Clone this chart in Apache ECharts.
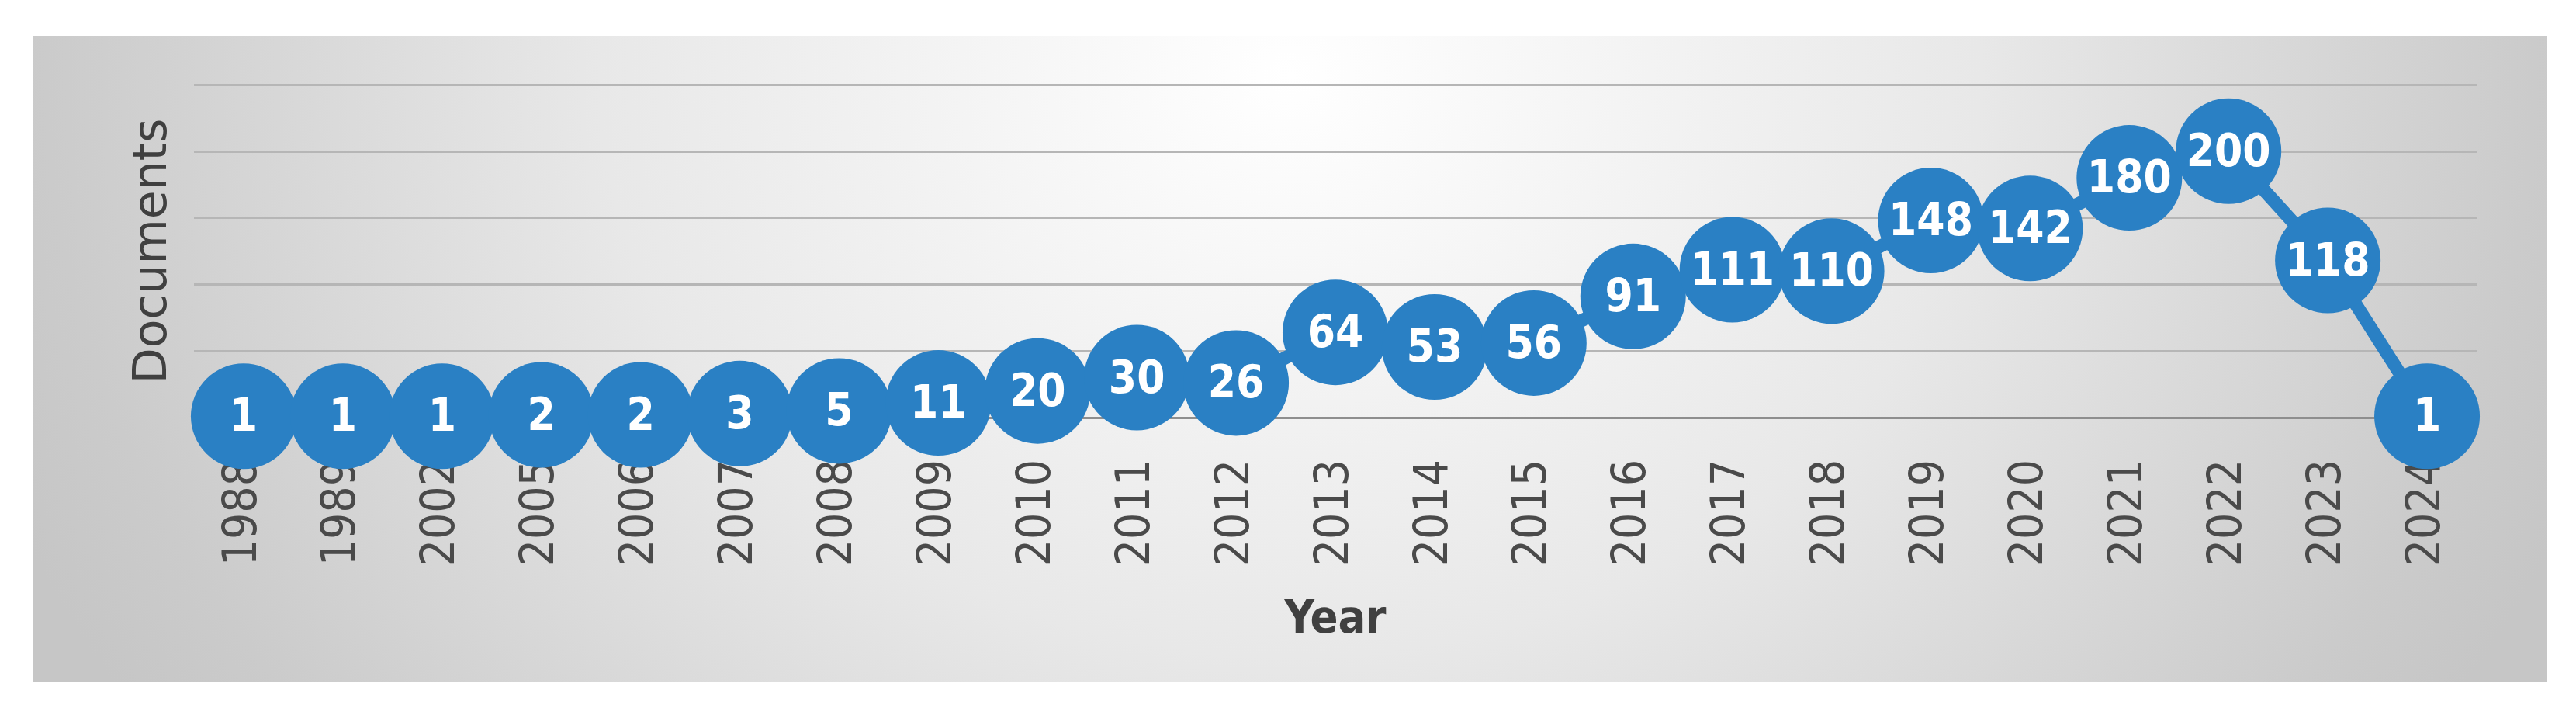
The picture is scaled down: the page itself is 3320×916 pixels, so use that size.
<!DOCTYPE html>
<html>
<head>
<meta charset="utf-8">
<script src="https://cdn.jsdelivr.net/npm/echarts@6/dist/echarts.min.js"></script>
<style>
  html, body { margin: 0; padding: 0; background: #fff; }
  #chart { width: 3320px; height: 916px; }
</style>
</head>
<body>
<div id="chart"></div>
<script>
const years = ['1988', '1989', '2002', '2005', '2006', '2007', '2008', '2009', '2010', '2011', '2012',
  '2013', '2014', '2015', '2016', '2017', '2018', '2019', '2020', '2021', '2022', '2023', '2024']
const documents = [1, 1, 1, 2, 2, 3, 5, 11, 20, 30, 26, 64, 53, 56, 91, 111, 110, 148, 142, 180, 200, 118, 1]

const yTicks = { min: 0, max: 250, interval: 50 }

const chart = echarts.init(document.getElementById('chart'))

// panel background, elliptical radial gradient (square gradient stretched with scaleX)
const panel = { x: 43, y: 47, w: 3240, h: 831 }
const k = 1.19

const option = {
  animation: false,
  backgroundColor: '#ffffff',
  graphic: [
    {
      type: 'rect',
      x: panel.x,
      y: panel.y,
      scaleX: k,
      z: -10,
      silent: true,
      shape: { x: 0, y: 0, width: panel.w / k, height: panel.h },
      style: {
        fill: new echarts.graphic.RadialGradient(0.5, 0.06, 1.8, [
          { offset: 0, color: '#ffffff' },
          { offset: 0.5, color: '#e8e8e8' },
          { offset: 0.9, color: '#cbcbcb' },
          { offset: 1, color: '#c6c6c6' }
        ])
      }
    }
  ],
  grid: {
    left: 250,
    right: 128,
    top: 109,
    bottom: 378
  },
  xAxis: {
    type: 'category',
    data: years,
    boundaryGap: true,
    name: 'Year',
    nameLocation: 'middle',
    nameGap: 232,
    nameTextStyle: {
      fontFamily: '"DejaVu Sans Condensed", "Liberation Sans", sans-serif',
      fontWeight: 'bold',
      fontSize: 59,
      color: '#404040'
    },
    axisLine: { lineStyle: { color: '#8e8e8e', width: 3 } },
    axisTick: { show: false },
    axisLabel: {
      rotate: 90,
      margin: 54,
      fontFamily: '"DejaVu Sans Condensed", "Liberation Sans", sans-serif',
      fontSize: 60,
      color: '#4a4a4a'
    }
  },
  yAxis: {
    type: 'value',
    min: yTicks.min,
    max: yTicks.max,
    interval: yTicks.interval,
    name: 'Documents',
    nameLocation: 'middle',
    nameGap: 22,
    nameTextStyle: {
      fontFamily: '"DejaVu Sans", sans-serif',
      fontSize: 60,
      color: '#404040'
    },
    axisLine: { show: false },
    axisTick: { show: false },
    axisLabel: { show: false },
    splitLine: { lineStyle: { color: '#b6b6b6', width: 3 } }
  },
  series: [
    {
      name: 'Documents',
      type: 'line',
      data: documents,
      symbol: 'circle',
      symbolSize: 136,
      color: '#2a80c4',
      lineStyle: { width: 17, color: '#2a80c4' },
      itemStyle: { color: '#2a80c4' },
      label: {
        show: true,
        position: 'inside',
        offset: [0, 4],
        fontFamily: '"DejaVu Sans Condensed", "DejaVu Sans", sans-serif',
        fontWeight: 'bold',
        fontSize: 58,
        color: '#ffffff'
      },
      z: 3
    }
  ]
}

chart.setOption(option)
</script>
</body>
</html>
